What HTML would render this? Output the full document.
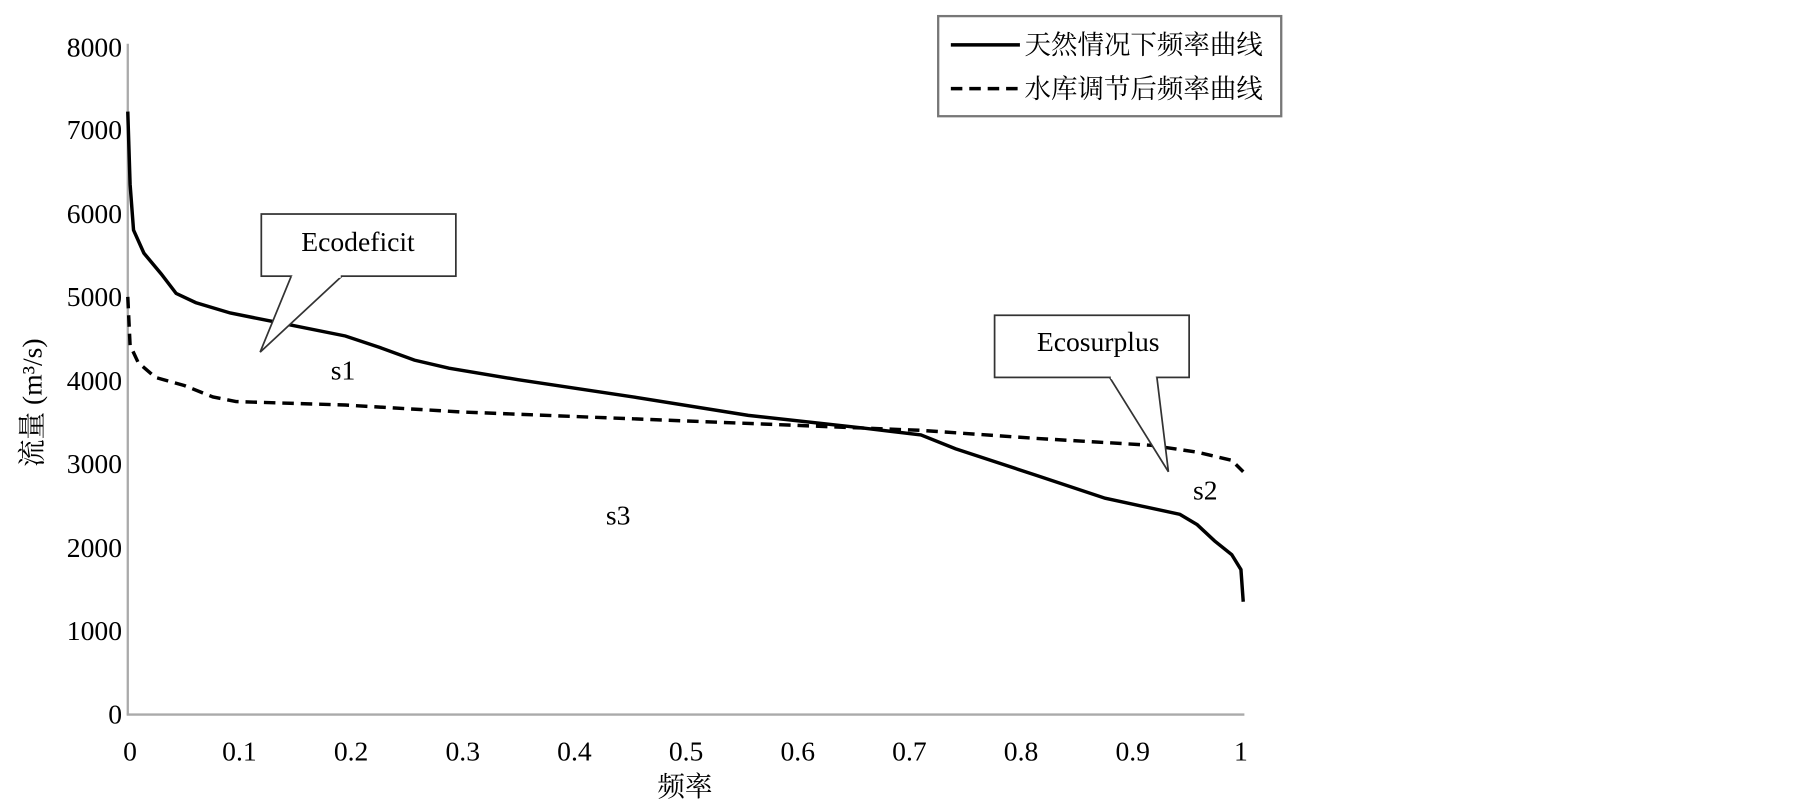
<!DOCTYPE html>
<html><head><meta charset="utf-8"><style>
html,body{margin:0;padding:0;background:#fff;}
svg{display:block;}
text{font-family:"Liberation Serif","Noto Serif CJK SC",serif;fill:#000;}
</style></head><body>
<svg width="1805" height="802" viewBox="0 0 1568 697" preserveAspectRatio="none">
<line x1="111" y1="38" x2="111" y2="621" stroke="#aaa" stroke-width="2"/>
<line x1="110" y1="621" x2="1081" y2="621" stroke="#aaa" stroke-width="2"/>
<g font-size="24" text-anchor="end">
<text x="106" y="49">8000</text><text x="106" y="121">7000</text><text x="106" y="194">6000</text>
<text x="106" y="266">5000</text><text x="106" y="339">4000</text><text x="106" y="411">3000</text>
<text x="106" y="484">2000</text><text x="106" y="556">1000</text><text x="106" y="629">0</text>
</g>
<g font-size="24" text-anchor="middle">
<text x="113" y="661">0</text><text x="208" y="661">0.1</text><text x="305" y="661">0.2</text>
<text x="402" y="661">0.3</text><text x="499" y="661">0.4</text><text x="596" y="661">0.5</text>
<text x="693" y="661">0.6</text><text x="790" y="661">0.7</text><text x="887" y="661">0.8</text>
<text x="984" y="661">0.9</text><text x="1078" y="661">1</text>
<text x="595" y="692">频率</text>
</g>
<text transform="translate(36,350) rotate(-90)" font-size="24" text-anchor="middle">流量 (m³/s)</text>
<polyline fill="none" stroke="#000" stroke-width="3" points="111,97 113,160 116,200 125,220 140,238 153,255 170,263 200,272 250,282 300,292 330,302 360,313 390,320 450,330 550,345 650,361 750,372 800,378 830,390 900,413 960,433 1025,447 1040,456 1055,470 1070,482 1078,495 1080,523"/>
<polyline fill="none" stroke="#000" stroke-width="3" stroke-dasharray="10,6" points="111,258 113,300 120,315 135,328 160,335 185,345 205,349 300,352 400,358 550,364 700,370 800,374 900,381 1000,387 1040,393 1070,400 1080,410"/>
<rect x="815" y="14" width="298" height="87" fill="#fff" stroke="#777" stroke-width="2"/>
<line x1="826" y1="39" x2="886" y2="39" stroke="#000" stroke-width="3"/>
<line x1="826" y1="77" x2="886" y2="77" stroke="#000" stroke-width="3" stroke-dasharray="10,6"/>
<g font-size="23"><text x="890" y="47">天然情况下频率曲线</text><text x="890" y="85">水库调节后频率曲线</text></g>
<rect x="227" y="186" width="169" height="54" fill="#fff" stroke="#333" stroke-width="1.5"/>
<polyline points="253,240 226,306 297,240" fill="#fff" stroke="#333" stroke-width="1.5"/>
<line x1="254" y1="240" x2="296" y2="240" stroke="#fff" stroke-width="3"/>
<text x="311" y="218" font-size="24" text-anchor="middle">Ecodeficit</text>
<rect x="864" y="274" width="169" height="54" fill="#fff" stroke="#333" stroke-width="1.5"/>
<polyline points="964,328 1015,410 1005,328" fill="#fff" stroke="#333" stroke-width="1.5"/>
<line x1="965" y1="328" x2="1004" y2="328" stroke="#fff" stroke-width="3"/>
<text x="954" y="305" font-size="24" text-anchor="middle">Ecosurplus</text>
<g font-size="24" text-anchor="middle"><text x="298" y="330">s1</text><text x="537" y="456">s3</text><text x="1047" y="434">s2</text></g>
</svg>
</body></html>
